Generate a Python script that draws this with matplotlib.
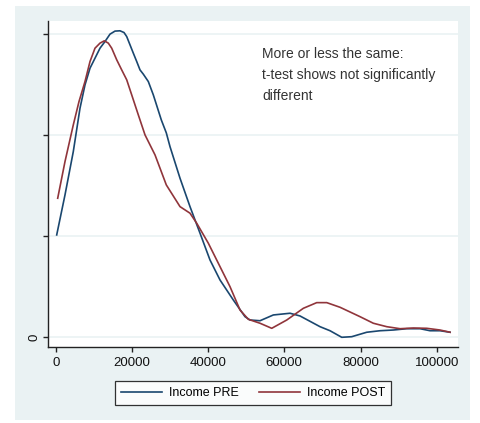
import matplotlib
matplotlib.use("Agg")
import matplotlib.pyplot as plt
from matplotlib.patches import Rectangle
from matplotlib import font_manager

# ---- data (density in units of 1e-5) ----
pre_x = [263, 2441, 4620, 6379, 7691, 9004, 10316, 11629, 12941, 14254, 15566,
         16879, 17929, 18638, 19504, 20370, 21263, 22129, 22995, 24308, 25620,
         27720, 29030, 30000, 32630, 35250, 37880, 40500, 43130,
         46620, 49690, 51000, 53630, 57120, 61500, 64130, 69380, 72000, 75080,
         77700, 81640, 85130, 88620, 92140, 95630, 98250, 100880, 103500]
pre_y = [1.013, 1.409, 1.838, 2.267, 2.498, 2.663, 2.762, 2.861, 2.927, 3.000, 3.030,
         3.033, 3.016, 2.976, 2.894, 2.812, 2.729, 2.646, 2.604, 2.531, 2.399,
         2.151, 2.023, 1.887, 1.574, 1.293, 1.030, 0.765, 0.567,
         0.369, 0.204, 0.171, 0.164, 0.221, 0.238, 0.211, 0.105, 0.065, 0.0,
         0.006, 0.050, 0.065, 0.072, 0.085, 0.085, 0.065, 0.065, 0.050]

post_x = [525, 2441, 4620, 6116, 7691, 9004, 10316, 11629, 12758, 13808, 14700,
          16013, 17325, 18638, 19950, 21683, 23441, 26066, 29030, 32630, 35250,
          37010, 40060, 43130, 45750, 48380,
          50560, 53630, 56700, 60640, 65000, 68510, 71140, 74630, 79880, 83370,
          86890, 90380, 93870, 97390, 100880, 103500]
post_y = [1.376, 1.739, 2.102, 2.333, 2.531, 2.729, 2.861, 2.911, 2.934, 2.911, 2.861,
          2.746, 2.646, 2.548, 2.399, 2.201, 2.003, 1.805, 1.508, 1.293, 1.228,
          1.129, 0.931, 0.699, 0.501, 0.270,
          0.178, 0.139, 0.089, 0.171, 0.287, 0.343, 0.343, 0.297, 0.204, 0.139,
          0.105, 0.085, 0.092, 0.089, 0.072, 0.050]

x_ticks = [0, 20000, 40000, 60000, 80000, 100000]
y_ticks = [0, 1, 2, 3]
y_tick_labels = ["0", "", "", ""]
series_labels = ["Income PRE", "Income POST"]
note = "More or less the same:\nt-test shows not significantly\ndifferent"

names = {f.name for f in font_manager.fontManager.ttflist}
fam = "Liberation Sans Narrow" if "Liberation Sans Narrow" in names else "Liberation Sans"
plt.rcParams["font.family"] = [fam, "DejaVu Sans"]

BG = "#eaf2f3"
BLUE = "#1a476f"
RED = "#90353b"

fig = plt.figure(figsize=(4.8, 4.23), dpi=100)
fig.patch.set_facecolor("white")
bg = Rectangle((15 / 480, 3 / 423), 455 / 480, 414 / 423,
               transform=fig.transFigure, facecolor=BG, edgecolor="none")
bg.set_zorder(-5)
fig.add_artist(bg)

ax = fig.add_axes([48 / 480, 76 / 423, 410 / 480, 326 / 423])
ax.set_zorder(1)
ax.set_facecolor("white")
ax.plot(pre_x, pre_y, color=BLUE, lw=1.2, label=series_labels[0], zorder=3,
        solid_joinstyle="round")
ax.plot(post_x, post_y, color=RED, lw=1.2, label=series_labels[1], zorder=3,
        solid_joinstyle="round")

ax.set_xlim(-2020, 105590)
ax.set_ylim(-0.096, 3.13)
ax.set_xticks(x_ticks)
ax.set_xticklabels([str(v) for v in x_ticks])
ax.set_yticks(y_ticks)
ax.set_yticklabels(y_tick_labels, rotation=90, va="center")
ax.grid(axis="y", color=BG, lw=1.2, zorder=0)
ax.set_axisbelow(True)
for s in ["top", "right"]:
    ax.spines[s].set_visible(False)
for s in ["left", "bottom"]:
    ax.spines[s].set_color("#222222")
    ax.spines[s].set_linewidth(1.0)
ax.tick_params(axis="both", length=3.5, width=1.0, color="#222222",
               labelsize=9.5, labelcolor="#111111", pad=4)
ax.tick_params(axis="y", pad=2)

ax.text(54150, 2.87, note, fontsize=10, color="#333333", va="top", ha="left",
        linespacing=1.62)

leg = fig.legend(loc="center", bbox_to_anchor=(253 / 480, 30 / 423), ncol=2,
                 frameon=True, fancybox=False, fontsize=9, handlelength=3.3,
                 handletextpad=0.55, columnspacing=1.6, borderpad=0.5)
leg.get_frame().set_edgecolor("black")
leg.get_frame().set_linewidth(0.9)
leg.set_zorder(2)

fig.savefig("out.png", dpi=100)
